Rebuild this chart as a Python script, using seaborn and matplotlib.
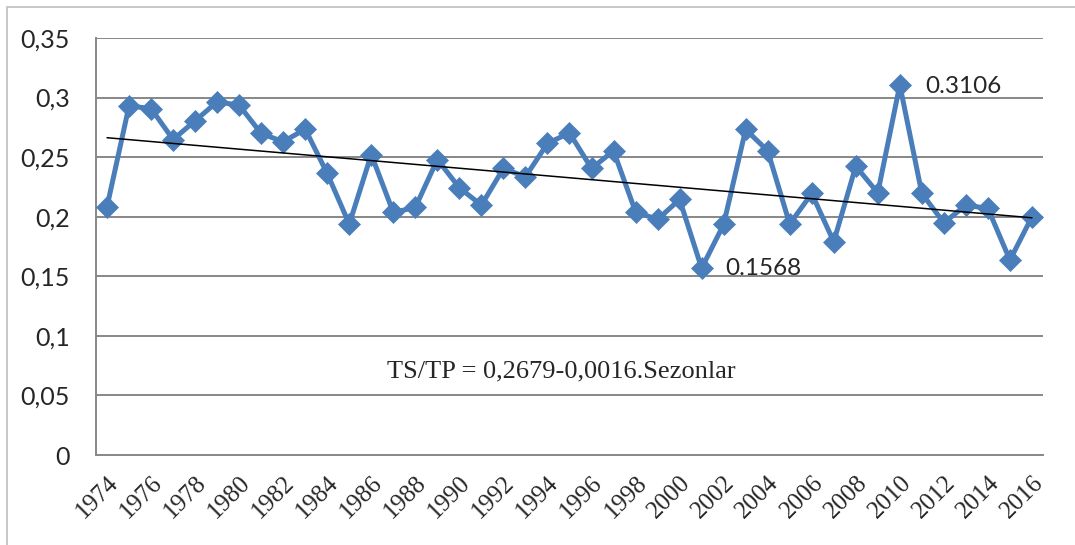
import numpy as np
import pandas as pd
import matplotlib
matplotlib.use("Agg")
import matplotlib.pyplot as plt
import matplotlib.transforms as mtransforms
import seaborn as sns
from matplotlib.patches import Rectangle

years = list(range(1974, 2017))
ts_tp = [0.2083, 0.2930, 0.2908, 0.2648, 0.2805, 0.2964, 0.2936, 0.2699, 0.2629, 0.2735,
         0.2363, 0.1938, 0.2522, 0.2036, 0.2078, 0.2480, 0.2243, 0.2097, 0.2405, 0.2335,
         0.2615, 0.2704, 0.2405, 0.2553, 0.2041, 0.1977, 0.2145, 0.1568, 0.1935, 0.2732,
         0.2553, 0.1938, 0.2195, 0.1790, 0.2424, 0.2200, 0.3106, 0.2195, 0.1949, 0.2097,
         0.2070, 0.1636, 0.1999]
trend_a = 0.2679
trend_b = -0.0016
y_ticks = [0, 0.05, 0.1, 0.15, 0.2, 0.25, 0.3, 0.35]
y_tick_labels = ["0", "0,05", "0,1", "0,15", "0,2", "0,25", "0,3", "0,35"]
label_years = list(range(1974, 2017, 2))
equation = "TS/TP = 0,2679-0,0016.Sezonlar"

df = pd.DataFrame({"Yil": years, "TS/TP": ts_tp})
df["Sezon"] = np.arange(1, len(df) + 1)
df["Trend"] = trend_a + trend_b * df["Sezon"]

sns.set_style("white")
plt.rcParams["font.family"] = ["Lato", "DejaVu Sans"]

grid_c = "#878787"
blue = "#4a7ebb"

fig = plt.figure(figsize=(10.75, 5.45), dpi=100)
ax = fig.add_axes([0.0893, 0.1651, 0.8809, 0.7652])

for v in y_ticks[1:]:
    ax.axhline(v, color=grid_c, lw=1.4, zorder=0)

sns.lineplot(data=df, x="Yil", y="TS/TP", ax=ax, color=blue, lw=3.6,
             marker="D", markersize=11, markeredgecolor=blue, markeredgewidth=0.5, zorder=3)
sns.lineplot(data=df, x="Yil", y="Trend", ax=ax, color="black", lw=1.1, zorder=4)

ax.set_xlim(1973.5, 2016.5)
ax.set_ylim(0, 0.35)
ax.set_xlabel("")
ax.set_ylabel("")

ax.set_yticks(y_ticks)
ax.set_yticklabels(y_tick_labels, fontsize=18)
ax.set_xticks(label_years)
ax.set_xticklabels([str(y) for y in label_years], rotation=45, ha="right",
                   rotation_mode="anchor", fontsize=18)
shift = mtransforms.ScaledTranslation(5 / 72, 0, fig.dpi_scale_trans)
for lbl in ax.get_xticklabels():
    lbl.set_fontfamily("Liberation Serif")
    lbl.set_transform(lbl.get_transform() + shift)
ax.set_xticks(np.arange(1973.5, 2017, 1), minor=True)
ax.tick_params(axis="x", which="major", length=0, pad=12)
ax.tick_params(axis="x", which="minor", length=6, width=1.3, color=grid_c, direction="out")
ax.tick_params(axis="y", length=6, width=1.3, color=grid_c, direction="out", pad=13)

for s in ["top", "right"]:
    ax.spines[s].set_visible(False)
for s in ["left", "bottom"]:
    ax.spines[s].set_color(grid_c)
    ax.spines[s].set_linewidth(1.4)

i_max = int(np.argmax(ts_tp))
i_min = int(np.argmin(ts_tp))
ax.annotate(f"{ts_tp[i_max]:.4f}", xy=(years[i_max], ts_tp[i_max]), xytext=(18, -1),
            textcoords="offset points", ha="left", va="center", fontsize=17.5)
ax.annotate(f"{ts_tp[i_min]:.4f}", xy=(years[i_min], ts_tp[i_min]), xytext=(17, 0),
            textcoords="offset points", ha="left", va="center", fontsize=17.5)

ax.text(0.491, 0.2, equation, transform=ax.transAxes, ha="center", va="center",
        fontsize=19, family="Liberation Serif")

fig.patches.append(Rectangle((7 / 1075, -0.1), 1.2, (545 - 7) / 545 + 0.1,
                             transform=fig.transFigure, fill=False,
                             edgecolor="#bfbfbf", lw=1.2))

fig.savefig("out.png", dpi=100)
